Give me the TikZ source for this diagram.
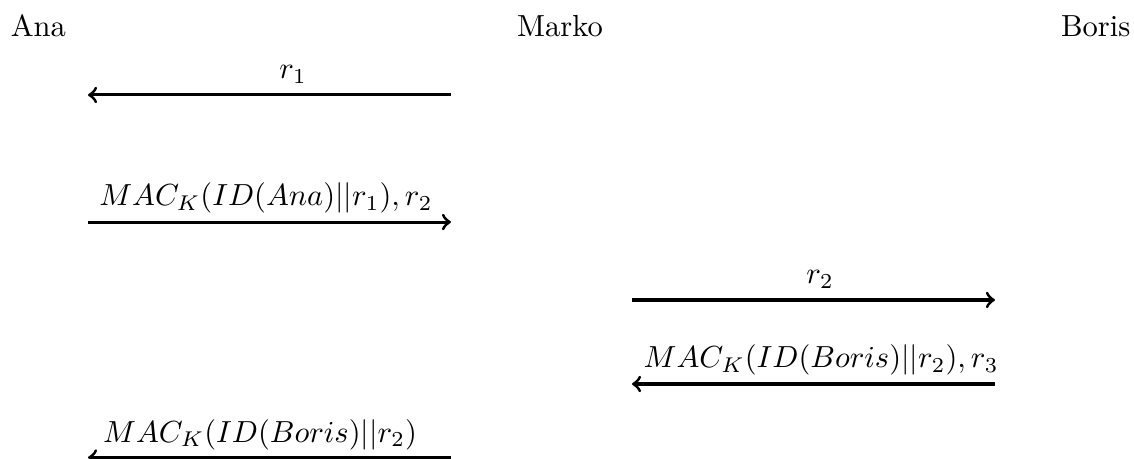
\documentclass[tikz,border=0pt]{standalone}
\usepackage{tikz}
\usetikzlibrary{calc}

\begin{document}
\begin{tikzpicture}
      \useasboundingbox (0,0) rectangle (13.065,-5.288);

      \node[anchor=base west] (ana) at (0,-0.415) {Ana};
      \node[anchor=base] (marko) at (6.452,-0.415) {Marko};
      \node[anchor=base] (boris) at (12.624,-0.415) {Boris};

      \begin{scope}[line width=1pt]
        \coordinate (anaA) at (1.014,-1.094);
        \coordinate (markoA) at (5.196,-1.094);
        \coordinate (anaB) at (1.014,-2.558);
        \coordinate (markoB) at (5.196,-2.558);
        \coordinate (markoC) at (7.281,-3.456);
        \coordinate (borisC) at (11.463,-3.456);
        \coordinate (markoD) at (7.281,-4.424);
        \coordinate (borisD) at (11.463,-4.424);
        \coordinate (anaE) at (1.014,-5.271);
        \coordinate (markoE) at (5.196,-5.271);

        \draw[->] (markoA) to node[above, pos=0.435] (lA) {$r_1$} (anaA);
        \draw[->] (anaB) to node[above, pos=0.49, yshift=-1pt] (lB) {$MAC_K(ID(Ana)||r_1), r_2$} (markoB);
        \draw[->] (markoC) to node[above, pos=0.518] (lC) {$r_2$} (borisC);
        \draw[->] (borisD) to node[above, pos=0.479, yshift=-1pt] (lD) {$MAC_K(ID(Boris)||r_2), r_3$} (markoD);
        \draw[->] (markoE) to node[above, pos=0.526, yshift=-1.3pt] (lE) {$MAC_K(ID(Boris)||r_2)$} (anaE);
      \end{scope}
\end{tikzpicture}
\end{document}
